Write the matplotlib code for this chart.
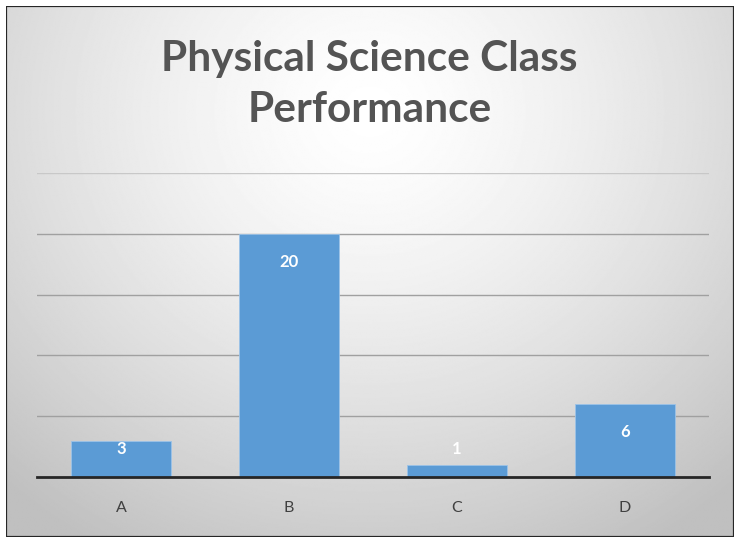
import matplotlib.pyplot as plt
import numpy as np
from matplotlib.patches import Rectangle

categories = ["A", "B", "C", "D"]
counts = [3, 20, 1, 6]
title = "Physical Science Class\nPerformance"

plt.rcParams["font.family"] = ["Lato", "DejaVu Sans"]

fig = plt.figure(figsize=(7.39, 5.39), dpi=100)
fig.patch.set_facecolor("white")

# radial gradient background inside the border
bg = fig.add_axes([0.0081, 0.0037, 0.9851, 0.9852])
ny, nx = 400, 600
yy, xx = np.mgrid[0:1:ny * 1j, 0:1:nx * 1j]
r = np.sqrt(((xx - 0.5) / 0.75) ** 2 + ((yy - 0.8) / 0.95) ** 2)
shade = 1.0 - 0.25 * np.clip(r, 0, 1) ** 1.4
bg.imshow(shade, cmap="gray", vmin=0, vmax=1, origin="lower",
          extent=[0, 1, 0, 1], aspect="auto", interpolation="bilinear")
bg.add_patch(Rectangle((0, 0), 1, 1, transform=bg.transAxes, fill=False,
                       edgecolor="#262626", linewidth=1.6))
bg.set_axis_off()

ax = fig.add_axes([0.0501, 0.115, 0.9093, 0.564])
ax.patch.set_alpha(0)
x = np.arange(len(categories))
bars = ax.bar(x, counts, width=0.6, color="#5b9bd5", edgecolor="#9cc3e8",
              linewidth=0.6, zorder=3)
# labels sit just inside the bar top, but never below a minimum height
for b, v in zip(bars, counts):
    ax.text(b.get_x() + b.get_width() / 2, max(v - 2.3, 2.3), str(v),
            ha="center", va="center", color="white", fontsize=12,
            fontweight="bold", zorder=4)

ax.set_xlim(-0.5, len(categories) - 0.5)
ax.set_ylim(0, 25)
ax.set_yticks([5, 10, 15, 20, 25])
ax.set_yticklabels([])
ax.tick_params(axis="y", length=0)
ax.yaxis.grid(True, color="#a0a0a0", linewidth=1.0, zorder=0)
ax.get_ygridlines()[-1].set_color("#c8c8c8")
ax.set_xticks(x)
ax.set_xticklabels(categories, fontsize=11.5, color="#404040")
ax.tick_params(axis="x", length=0, pad=17)
for s in ["top", "right", "left"]:
    ax.spines[s].set_visible(False)
ax.spines["bottom"].set_color("#262626")
ax.spines["bottom"].set_linewidth(2)
ax.spines["bottom"].set_zorder(5)

fig.text(0.5, 0.843, title, ha="center", va="center", fontsize=30.5,
         fontweight="bold", color="#545454", linespacing=1.43)

fig.savefig("out.png", dpi=100)
